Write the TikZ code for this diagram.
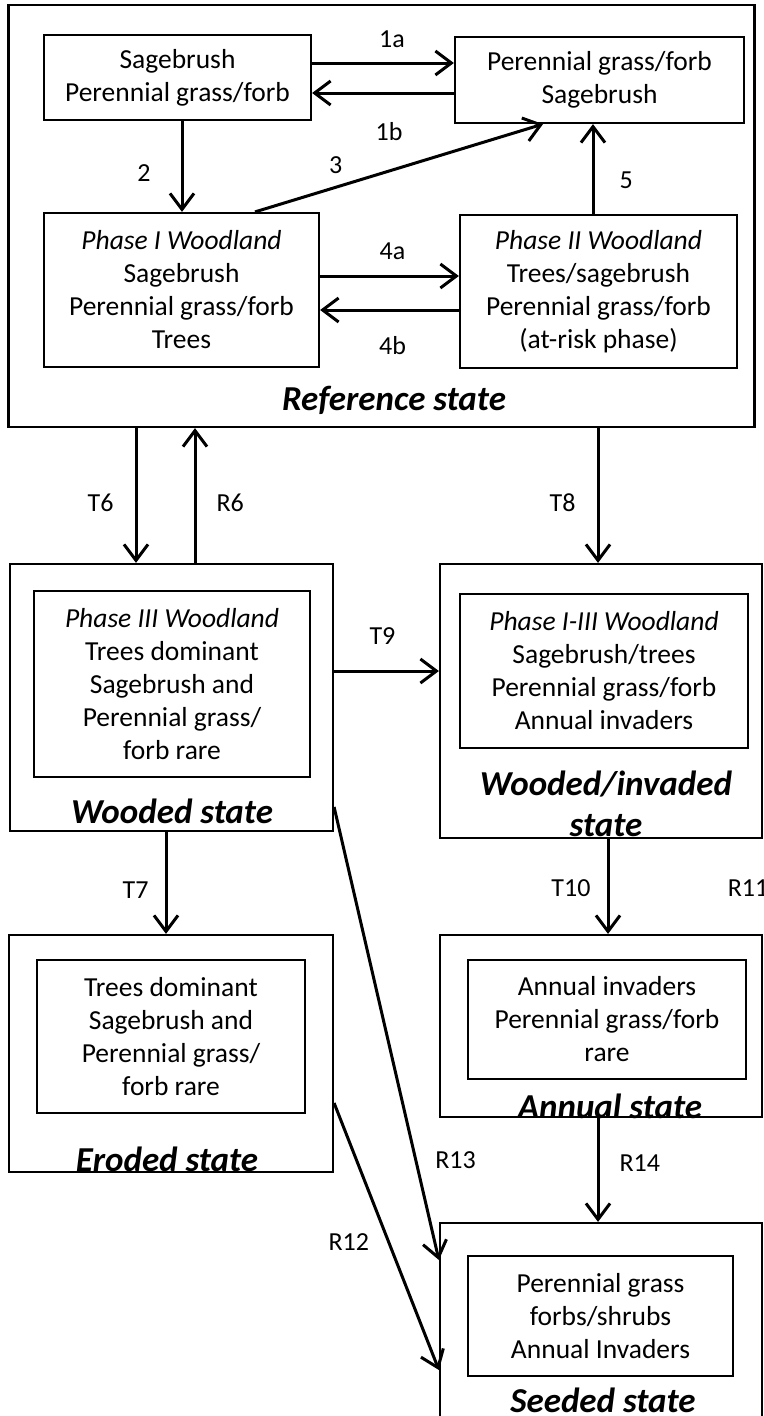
\documentclass[tikz,border=0pt]{standalone}
\usepackage{fontspec}
\setmainfont{Carlito}
\usetikzlibrary{arrows.meta,positioning}

\tikzset{
  box/.style={draw,line width=2.2pt,inner sep=0pt,align=center,font=\fontsize{27.5}{33}\selectfont},
  frame/.style={draw,line width=2.2pt,inner sep=0pt},
  statelbl/.style={inner sep=0pt,align=center,font=\fontsize{35}{41}\selectfont\bfseries\itshape},
  lbl/.style={inner sep=0pt,font=\fontsize{26}{30}\selectfont},
  arr/.style={line width=3pt,-{Straight Barb[length=16pt,width=24pt]}}
}

\begin{document}
\begin{tikzpicture}[x=1pt,y=-1pt]
    \fill[white](0,0)rectangle(763,1416);
    \useasboundingbox(0,0)rectangle(763,1416);
    \clip(0,0)rectangle(763,1416);
    % reference state
    \node[frame,minimum width=746pt,minimum height=422pt](ref)at(381.5,216){};
    \node[box,minimum width=267pt,minimum height=85pt](sageA)at(177.5,77.5){Sagebrush\\Perennial grass/forb};
    \node[box,minimum width=289pt,minimum height=86pt](grassB)at(599.5,80){Perennial grass/forb\\Sagebrush};
    \node[box,minimum width=275pt,minimum height=154pt](phI)at(181.5,290){\textit{Phase I Woodland}\\Sagebrush\\Perennial grass/forb\\Trees};
    \node[box,minimum width=277pt,minimum height=153pt](phII)at(598.5,291.5){\textit{Phase II Woodland}\\Trees/sagebrush\\Perennial grass/forb\\(at-risk phase)};
    \node[statelbl](refL)at(394,400){Reference state};
    % wooded and wooded/invaded
    \node[frame,minimum width=323pt,minimum height=267pt](wood)at(171.5,697.5){};
    \node[box,minimum width=276pt,minimum height=186pt](phIII)at(172,684){\textit{Phase III Woodland}\\Trees dominant\\Sagebrush and\\Perennial grass/\\forb rare};
    \node[statelbl](woodL)at(172,811){Wooded state};
    \node[frame,minimum width=322pt,minimum height=274pt](inv)at(601,701){};
    \node[box,minimum width=288pt,minimum height=154pt](phIV)at(604,671){\textit{Phase I-III Woodland}\\Sagebrush/trees\\Perennial grass/forb\\Annual invaders};
    \node[statelbl](invL)at(606,803.5){Wooded/invaded\\state};
    % eroded, annual, seeded
    \node[frame,minimum width=324pt,minimum height=237pt](erod)at(171,1053.5){};
    \node[box,minimum width=268pt,minimum height=153pt](erodIn)at(171,1036.5){Trees dominant\\Sagebrush and\\Perennial grass/\\forb rare};
    \node[statelbl](erodL)at(167,1159){Eroded state};
    \node[frame,minimum width=322pt,minimum height=182pt](ann)at(601,1026){};
    \node[box,minimum width=278pt,minimum height=119pt](annIn)at(607,1019.5){Annual invaders\\Perennial grass/forb\\rare};
    \node[statelbl](annL)at(610,1106){Annual state};
    \node[frame,minimum width=322pt,minimum height=217pt](seed)at(601,1331.5){};
    \node[box,minimum width=265pt,minimum height=120pt](seedIn)at(600.5,1316){Perennial grass\\forbs/shrubs\\Annual Invaders};
    \node[statelbl](seedL)at(603,1400){Seeded state};

    % transitions inside the reference state
    \draw[arr](sageA.east |- 0,63)to node[lbl,above=14pt,xshift=9pt]{1a}(grassB.west |- 0,63);
    \draw[arr](grassB.west |- 0,93)to node[lbl,below=28pt,xshift=6pt]{1b}(sageA.east |- 0,93);
    \draw[arr](182,0 |- sageA.south)to node[lbl,pos=.57,left=30pt]{2}(182,0 |- phI.north);
    \draw[arr](255,0 |- phI.north)to node[lbl,pos=.28,above=12pt]{3}(543,0 |- grassB.south);
    \draw[arr](phI.east |- 0,276)to node[lbl,above=15pt,xshift=3pt]{4a}(phII.west |- 0,276);
    \draw[arr](phII.west |- 0,310)to node[lbl,below=25pt,xshift=3pt]{4b}(phI.east |- 0,310);
    \draw[arr](593,0 |- phII.north)to node[lbl,pos=.38,right=25pt]{5}(593,0 |- grassB.south);
    % between states
    \draw[arr](136,0 |- ref.south)to node[lbl,pos=.555,left=21pt]{T6}(136,0 |- wood.north);
    \draw[arr](195,0 |- wood.north)to node[lbl,pos=.445,right=20pt]{R6}(195,0 |- ref.south);
    \draw[arr](598,0 |- ref.south)to node[lbl,pos=.555,left=21pt]{T8}(598,0 |- inv.north);
    \draw[arr](wood.east |- 0,671)to node[lbl,above=25pt,xshift=-4pt]{T9}(inv.west |- 0,671);
    \draw[arr](166,0 |- wood.south)to node[lbl,pos=.57,left=16pt]{T7}(166,0 |- erod.north);
    \draw[arr](608,0 |- inv.south)to node[lbl,pos=.52,left=16pt]{T10}(608,0 |- ann.north);
    \node[lbl](r11)at(748,888){R11};
    \draw[arr](598,0 |- ann.south)to node[lbl,pos=.43,right=20pt]{R14}(598,0 |- seed.north);
    \draw[arr](wood.east |- 0,807)to node[lbl,pos=.78,right=18pt]{R13}(seed.west |- 0,1260);
    \draw[arr](erod.east |- 0,1103)to node[lbl,pos=.52,left=18pt]{R12}(seed.west |- 0,1370);
\end{tikzpicture}
\end{document}
